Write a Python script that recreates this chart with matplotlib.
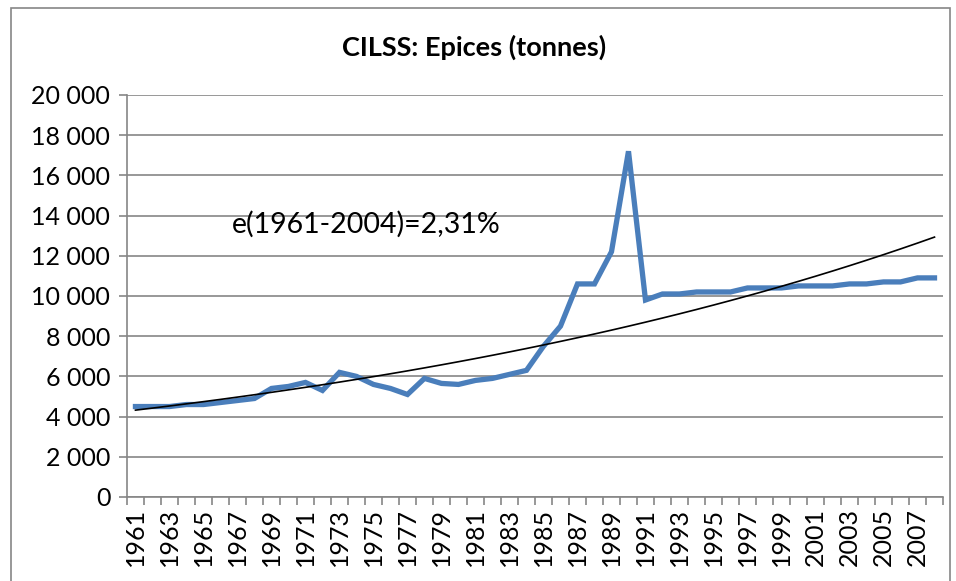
import numpy as np
import matplotlib
matplotlib.use("Agg")
import matplotlib.pyplot as plt
from matplotlib.patches import Rectangle
from matplotlib.ticker import FuncFormatter

plt.rcParams['font.family'] = ['Lato', 'DejaVu Sans']

years = list(range(1961, 2009))
tonnes = [4500, 4500, 4500, 4600, 4600, 4700, 4800, 4900, 5400, 5500,
          5700, 5300, 6200, 6000, 5600, 5400, 5100, 5900, 5650, 5600,
          5800, 5900, 6100, 6300, 7500, 8500, 10600, 10600, 12200, 17200,
          9800, 10100, 10100, 10200, 10200, 10200, 10400, 10400, 10400, 10500,
          10500, 10500, 10600, 10600, 10700, 10700, 10900, 10900]
y_ticks = list(range(0, 20001, 2000))
label_text = "e(1961-2004)=2,31%"
title = "CILSS: Epices (tonnes)"

grey = '#868686'

fig = plt.figure(figsize=(9.56, 5.81), dpi=100)
ax = fig.add_axes([0.1328, 0.1446, 0.8536, 0.6919])

x = np.arange(len(years))
ax.plot(x, tonnes, color='#4a7ebb', lw=3.8, solid_joinstyle='miter', zorder=3)

# exponential trend line (fit on log values)
b, a = np.polyfit(x, np.log(tonnes), 1)
ax.plot(x, np.exp(a + b * x), color='black', lw=1.2, zorder=4)

ax.set_xlim(-0.5, len(years) - 0.5)
ax.set_ylim(0, 20000)
ax.set_yticks(y_ticks)
ax.yaxis.set_major_formatter(FuncFormatter(lambda v, p: f"{int(v):,}".replace(",", " ")))
ax.grid(axis='y', color=grey, lw=1.2)
ax.set_axisbelow(True)

ax.set_xticks(x[::2])
ax.set_xticklabels([str(y) for y in years[::2]], rotation=90)
ax.set_xticks(np.arange(-0.5, len(years), 1), minor=True)
ax.tick_params(axis='x', which='major', length=0, pad=8, labelsize=18)
ax.tick_params(axis='x', which='minor', length=6, color=grey, width=1.2)
ax.tick_params(axis='y', length=6, color=grey, width=1.2, labelsize=18, pad=6)

for s in ['top', 'right']:
    ax.spines[s].set_visible(False)
for s in ['left', 'bottom']:
    ax.spines[s].set_color(grey)
    ax.spines[s].set_linewidth(1.2)

ax.text(5.7, 13570, label_text, fontsize=20.5, va='center', ha='left')
fig.text(0.496, 0.919, title, fontsize=19.5, fontweight='bold', ha='center', va='center')

fig.patches.append(Rectangle((0.0115, -0.02), 0.982, 1.02 - 8 / 581,
                             transform=fig.transFigure, fill=False,
                             edgecolor=grey, lw=1.2))

fig.savefig('out.png', dpi=100)
